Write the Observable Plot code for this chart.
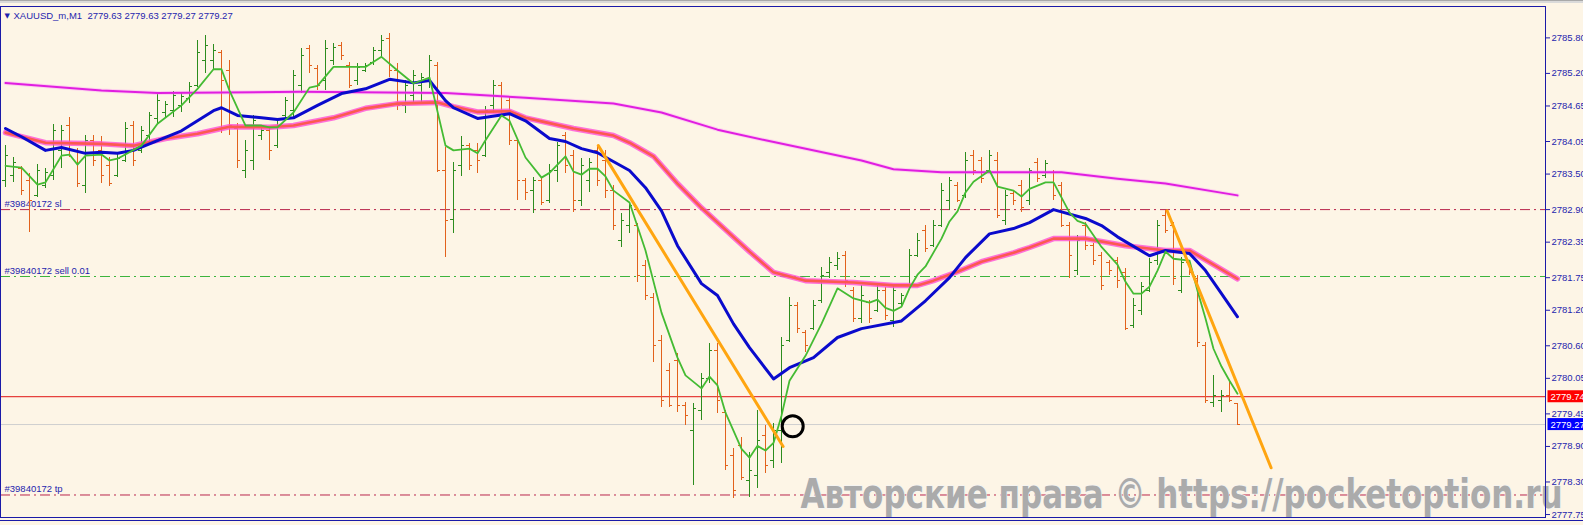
<!DOCTYPE html>
<html><head><meta charset="utf-8">
<script src="https://cdn.jsdelivr.net/npm/d3@7"></script>
<script src="https://cdn.jsdelivr.net/npm/@observablehq/plot@0.6"></script>
<style>
html,body{margin:0;padding:0;}
body{width:1583px;height:525px;overflow:hidden;background:linear-gradient(to bottom,#a9a9a9 0px,#a9a9a9 1px,#dadada 1px,#dadada 3px,#FDF5E6 3px,#FDF5E6 520px,#1a1aa8 520px,#1a1aa8 521px,#FDF5E6 521px);}
#chart svg{display:block}
</style></head><body><div id="chart"></div>
<script>
// ---- chart data (XAUUSD_m, M1) ----
const symbol = "XAUUSD_m,M1";
const open = [
2783.39,2783.47,2783.59,2783.39,2783.14,2783.30,2783.47,2783.90,2784.32,2783.90,
2783.30,2784.07,2783.90,2783.64,2783.47,2783.73,2784.32,2783.90,2784.15,2784.44,
2784.54,2784.57,2784.66,2784.77,2784.99,2785.42,2785.42,2785.55,2785.25,2784.27,
2783.56,2783.73,2784.15,2784.23,2783.98,2784.49,2784.57,2784.99,2785.62,2785.28,
2785.08,2785.42,2785.67,2785.33,2785.08,2785.25,2785.38,2785.59,2785.79,2785.25,
2784.66,2784.83,2784.99,2785.08,2785.33,2783.56,2782.74,2783.64,2783.98,2783.90,
2783.81,2784.66,2784.99,2784.74,2784.07,2783.39,2783.22,2783.39,2783.05,2783.56,
2784.15,2783.81,2783.05,2783.39,2783.90,2783.73,2783.22,2782.38,2782.63,2782.63,
2781.95,2781.41,2780.69,2780.18,2780.35,2779.59,2779.17,2779.50,2780.05,2780.52,
2779.47,2778.74,2778.91,2778.32,2778.41,2779.08,2778.66,2779.17,2780.69,2781.28,
2780.82,2780.89,2781.36,2781.83,2781.95,2782.12,2781.53,2781.06,2781.33,2781.19,
2781.53,2781.02,2781.31,2781.62,2782.12,2782.55,2782.29,2782.63,2783.05,2783.30,
2783.14,2783.81,2783.73,2783.56,2783.73,2782.71,2783.17,2783.30,2783.05,2783.69,
2783.47,2783.52,2783.30,2782.63,2781.87,2782.63,2782.29,2782.12,2782.00,2782.04,
2781.83,2780.94,2781.19,2781.53,2782.04,2782.80,2782.63,2781.53,2782.00,2781.73,
2780.60,2779.64,2779.67,2779.76,2779.63];
const high = [
2783.98,2783.78,2783.63,2783.51,2783.66,2783.59,2784.34,2784.32,2784.45,2783.93,
2784.15,2784.15,2784.13,2783.78,2783.83,2784.37,2784.39,2784.30,2784.54,2784.84,
2784.72,2784.89,2784.88,2785.05,2785.75,2785.84,2785.69,2785.59,2785.42,2784.35,
2784.07,2784.49,2784.29,2784.29,2784.40,2784.79,2785.25,2785.62,2785.67,2785.33,
2785.75,2785.70,2785.72,2785.38,2785.37,2785.37,2785.64,2785.84,2785.87,2785.37,
2785.08,2785.25,2785.20,2785.50,2785.38,2783.95,2783.69,2784.13,2784.01,2784.01,
2784.64,2785.08,2785.05,2784.79,2784.10,2783.42,2783.44,2783.44,2783.66,2784.03,
2784.20,2783.90,2783.76,2783.76,2783.98,2783.90,2783.30,2782.83,2783.02,2782.66,
2782.04,2781.48,2780.77,2780.30,2780.47,2779.64,2779.62,2780.13,2780.64,2780.64,
2779.50,2778.86,2779.05,2778.80,2779.50,2779.25,2779.29,2780.74,2781.41,2781.33,
2780.86,2781.36,2781.92,2782.09,2782.17,2782.19,2781.58,2781.62,2781.36,2781.62,
2781.58,2781.62,2781.48,2782.22,2782.49,2782.63,2782.71,2783.34,2783.44,2783.36,
2783.86,2783.90,2783.78,2783.90,2783.86,2783.22,2783.22,2783.39,2783.59,2783.76,
2783.73,2783.56,2783.36,2782.68,2782.46,2782.68,2782.33,2782.17,2782.04,2782.09,
2781.90,2781.40,2781.67,2782.07,2782.71,2782.88,2782.68,2782.09,2782.04,2781.78,
2780.65,2780.10,2779.84,2780.01,2779.63];
const low = [
2783.27,2783.36,2783.14,2782.51,2783.10,2783.25,2783.39,2783.59,2783.78,2783.27,
2783.17,2783.63,2783.34,2783.29,2783.44,2783.69,2783.63,2783.85,2783.98,2784.35,
2784.44,2784.45,2784.54,2784.69,2784.96,2785.20,2785.26,2784.18,2784.15,2783.59,
2783.42,2783.56,2784.07,2783.73,2783.93,2784.44,2784.45,2784.86,2785.20,2784.91,
2784.91,2785.33,2785.42,2784.94,2784.99,2785.21,2785.33,2785.45,2785.13,2784.57,
2784.52,2784.69,2784.71,2784.94,2783.52,2782.09,2782.49,2783.46,2783.56,2783.51,
2783.78,2784.52,2784.45,2783.98,2783.05,2783.05,2782.83,2782.97,2783.00,2783.36,
2783.51,2782.85,2782.95,2783.19,2783.29,2783.09,2782.55,2782.26,2782.49,2781.67,
2781.36,2780.32,2779.56,2779.56,2779.47,2779.25,2778.24,2779.34,2779.96,2779.45,
2778.49,2778.02,2778.32,2778.03,2778.19,2778.44,2778.52,2778.61,2780.65,2780.80,
2780.48,2780.86,2781.31,2781.73,2781.87,2781.58,2780.99,2780.97,2780.97,2781.16,
2781.02,2780.91,2781.24,2781.58,2782.09,2782.17,2782.26,2782.60,2782.88,2783.02,
2783.09,2783.47,2783.34,2783.51,2782.75,2782.63,2782.97,2782.85,2782.97,2783.36,
2783.42,2783.05,2782.60,2781.73,2781.78,2782.21,2781.95,2781.53,2781.78,2781.57,
2780.86,2780.89,2781.11,2781.50,2781.95,2782.49,2781.62,2781.48,2781.78,2780.57,
2779.62,2779.56,2779.47,2779.64,2779.27];
const close = [
2783.81,2783.69,2783.22,2783.05,2783.56,2783.52,2784.23,2784.23,2783.90,2783.34,
2784.07,2783.73,2783.47,2783.34,2783.76,2784.27,2783.73,2784.23,2784.49,2784.74,
2784.67,2784.83,2784.81,2784.98,2785.55,2785.67,2785.59,2785.08,2784.32,2783.73,
2783.90,2784.40,2784.23,2783.90,2784.32,2784.74,2785.16,2785.50,2785.33,2784.99,
2785.62,2785.64,2785.50,2784.99,2785.30,2785.33,2785.59,2785.75,2785.25,2784.66,
2784.99,2785.16,2785.13,2785.42,2783.56,2782.71,2783.56,2783.98,2783.64,2783.73,
2784.57,2784.99,2784.57,2784.07,2783.39,2783.19,2783.39,2783.02,2783.56,2783.98,
2783.64,2783.05,2783.64,2783.69,2783.39,2783.22,2782.63,2782.71,2782.97,2781.78,
2781.45,2780.60,2779.67,2779.59,2779.59,2779.42,2779.54,2780.05,2780.52,2779.67,
2778.58,2778.15,2778.37,2778.49,2779.00,2778.58,2779.17,2780.60,2781.28,2780.89,
2780.60,2781.28,2781.78,2782.00,2782.07,2781.70,2781.06,2781.45,2781.06,2781.53,
2781.11,2781.53,2781.45,2782.12,2782.38,2782.24,2782.63,2783.22,2783.39,2783.05,
2783.73,2783.56,2783.42,2783.81,2782.80,2783.14,2783.05,2782.93,2783.56,2783.42,
2783.68,2783.14,2782.63,2782.12,2782.38,2782.29,2782.04,2781.62,2781.87,2781.70,
2780.89,2781.28,2781.60,2782.00,2782.63,2782.55,2781.73,2782.00,2781.83,2780.65,
2779.67,2779.76,2779.76,2779.67,2779.27];

// moving averages at bar positions
const fastIdx = [0,2,4,5,7,8,9,10,12,13,14,17,19,22,24,26,27,28,30,32,33,34,36,38,39,41,43,45,47,49,51,53,55,56,58,59,60,62,63,65,67,68,70,71,72,73,74,75,76,78,80,82,84,85,87,88,89,90,92,93,94,95,96,97,98,100,102,104,106,108,109,110,111,112,113,114,115,117,118,119,120,121,123,124,126,127,128,130,131,133,134,135,137,139,140,141,142,143,144,145,146,148,149,150,151,152,153,154];
const fastVal = [2783.64,2783.61,2783.32,2783.36,2783.81,2783.83,2783.66,2783.81,2783.83,2783.73,2783.76,2783.98,2784.35,2784.66,2784.94,2785.27,2785.27,2784.91,2784.32,2784.32,2784.29,2784.29,2784.54,2784.96,2784.99,2785.31,2785.31,2785.31,2785.48,2785.25,2785.03,2785.13,2783.98,2783.90,2783.93,2783.85,2784.07,2784.49,2784.40,2783.78,2783.44,2783.52,2783.80,2783.54,2783.49,2783.59,2783.59,2783.46,2783.22,2783.02,2782.21,2781.16,2780.40,2780.10,2779.88,2780.08,2779.93,2779.47,2778.86,2778.71,2778.91,2778.83,2778.96,2779.42,2780.01,2780.43,2780.97,2781.57,2781.40,2781.33,2781.38,2781.24,2781.19,2781.26,2781.57,2781.80,2781.94,2782.41,2782.70,2782.87,2783.19,2783.37,2783.56,2783.29,2783.22,2783.12,2783.25,2783.36,2783.36,2782.85,2782.71,2782.66,2782.27,2781.97,2781.68,2781.48,2781.48,2781.60,2781.87,2782.19,2782.07,2782.04,2781.53,2781.06,2780.55,2780.25,2780.01,2779.79];
const blueIdx = [0,2,5,7,10,12,14,16,18,22,26,27,29,32,34,36,39,42,45,48,51,53,55,56,59,63,65,68,70,72,74,78,80,82,84,87,89,91,93,96,98,101,104,107,112,115,118,120,123,126,128,131,135,137,139,143,145,148,150,152,154];
const blueVal = [2784.27,2784.13,2783.90,2783.95,2783.85,2783.87,2783.85,2783.90,2784.01,2784.23,2784.57,2784.62,2784.49,2784.45,2784.42,2784.45,2784.66,2784.86,2784.94,2785.10,2785.04,2785.08,2784.74,2784.62,2784.44,2784.52,2784.40,2784.10,2784.05,2783.93,2783.86,2783.56,2783.27,2782.88,2782.29,2781.65,2781.45,2780.97,2780.57,2780.04,2780.23,2780.40,2780.74,2780.89,2781.02,2781.36,2781.75,2782.09,2782.49,2782.58,2782.68,2782.90,2782.75,2782.63,2782.44,2782.12,2782.21,2782.16,2781.87,2781.48,2781.09];
const redIdx = [0,5,12,16,20,24,28,33,36,41,45,49,54,56,59,63,65,67,71,76,78,81,84,87,90,93,96,100,106,111,114,116,119,122,126,128,131,135,140,145,148,151,154];
const redVal = [2784.20,2784.03,2784.01,2783.98,2784.10,2784.18,2784.30,2784.29,2784.32,2784.45,2784.61,2784.69,2784.71,2784.64,2784.55,2784.56,2784.45,2784.39,2784.27,2784.15,2784.03,2783.80,2783.34,2782.93,2782.56,2782.19,2781.84,2781.70,2781.67,2781.62,2781.62,2781.70,2781.85,2782.02,2782.17,2782.26,2782.41,2782.41,2782.29,2782.21,2782.21,2781.97,2781.73];
const magIdx = [0,12,19,37,55,65,76,82,89,95,107,111,117,126,132,139,145,154];
const magVal = [2785.04,2784.91,2784.87,2784.89,2784.87,2784.79,2784.69,2784.54,2784.25,2784.07,2783.73,2783.58,2783.53,2783.53,2783.53,2783.42,2783.34,2783.14];

// drawn objects
const trend1X = [74.1, 97.2], trend1Y = [2783.98, 2778.90];
const trend2X = [145.2, 158.2], trend2Y = [2782.88, 2778.54];
const circleX = [98.4], circleY = [2779.24];

// order levels
const levelPrice = [2782.90, 2781.77, 2778.08];
const levelLabel = ["#39840172 sl", "#39840172 sell 0.01", "#39840172 tp"];
const levelColor = ["#b9264c", "#3cb43c", "#b9264c"];
const bidPrice = 2779.74, lastPrice = 2779.27;

const yTicks = [2785.80, 2785.20, 2784.65, 2784.05, 2783.50, 2782.90, 2782.35, 2781.75, 2781.20, 2780.60, 2780.05, 2779.45, 2778.90, 2778.30, 2777.75];
const watermark = "Авторские права © https://pocketoption.ru";

// ---- build ----
const N = close.length;
const UP = "#2c8c1e", DN = "#e2621c", TXT = "#1f1fae";
const bars = d3.range(N).map(i => ({i, o: open[i], h: high[i], l: low[i], c: close[i], col: close[i] >= open[i] ? UP : DN}));
const pts = (xs, ys) => xs.map((x, k) => ({x, y: ys[k]}));
const fast = pts(fastIdx, fastVal), blue = pts(blueIdx, blueVal), red = pts(redIdx, redVal), mag = pts(magIdx, magVal);
const levels = levelPrice.map((p, k) => ({p, label: levelLabel[k], col: levelColor[k]}));
const last = N - 1;
const title = `${symbol}\u00a0\u00a0${[open[last], high[last], low[last], close[last]].map(v => v.toFixed(2)).join(" ")}`;
const boxes = [{p: bidPrice, bg: "#ff0000"}, {p: lastPrice, bg: "#0000ff"}];
const boxText = boxes.map(b => b.p.toFixed(2));

const plot = Plot.plot({
  width: 1583, height: 525,
  marginLeft: 0, marginRight: 38, marginTop: 6, marginBottom: 8,
  style: {background: "transparent", fontFamily: "'Liberation Sans', Arial, sans-serif", overflow: "visible"},
  x: {type: "linear", domain: [-0.625, 192.5], axis: null},
  y: {domain: [2777.70, 2786.33], axis: null},
  color: {type: "identity"},
  marks: [
    Plot.ruleY([lastPrice], {stroke: "#cfcfcf", strokeWidth: 1}),
    Plot.ruleY([bidPrice], {stroke: "#e01414", strokeWidth: 1}),
    Plot.ruleY(levels, {y: "p", stroke: "col", strokeWidth: 1, strokeDasharray: "10,4,2,4"}),
    Plot.text(levels, {y: "p", text: "label", frameAnchor: "left", lineAnchor: "middle", dx: 4, dy: -6, textAnchor: "start", fill: TXT, fontSize: 9.5}),
    // OHLC bars
    Plot.ruleX(bars, {x: "i", y1: "l", y2: "h", stroke: "col", strokeWidth: 1, shapeRendering: "crispEdges"}),
    Plot.ruleY(bars, {y: "o", x1: d => d.i - 0.4, x2: "i", stroke: "col", strokeWidth: 1, shapeRendering: "crispEdges"}),
    Plot.ruleY(bars, {y: "c", x1: "i", x2: d => d.i + 0.4, stroke: "col", strokeWidth: 1, shapeRendering: "crispEdges"}),
    // moving averages
    Plot.line(mag, {x: "x", y: "y", stroke: "#ff7dff", strokeWidth: 4, strokeOpacity: 0.3}),
    Plot.line(mag, {x: "x", y: "y", stroke: "#e01ee0", strokeWidth: 2}),
    Plot.line(red, {x: "x", y: "y", stroke: "#ff4fd6", strokeWidth: 5.5, strokeOpacity: 0.8}),
    Plot.line(red, {x: "x", y: "y", stroke: "#fb5a50", strokeWidth: 2.6}),
    Plot.line(blue, {x: "x", y: "y", stroke: "#0a0acc", strokeWidth: 3}),
    Plot.line(fast, {x: "x", y: "y", stroke: "#44bb33", strokeWidth: 1.8}),
    // drawn trend lines & marker
    Plot.line(pts(trend1X, trend1Y), {x: "x", y: "y", stroke: "#ffa510", strokeWidth: 3}),
    Plot.line(pts(trend2X, trend2Y), {x: "x", y: "y", stroke: "#ffa510", strokeWidth: 3}),
    Plot.dot(pts(circleX, circleY), {x: "x", y: "y", r: 10.5, stroke: "black", strokeWidth: 3, fill: "none"}),
    // watermark
    Plot.text([watermark], {frameAnchor: "bottom-right", lineAnchor: "middle", dx: 17, dy: -22, textAnchor: "end", fontSize: 40, fontWeight: "bold",
      fontFamily: "'DejaVu Sans', sans-serif", fill: "#ababab", stroke: "#f4f4f4", strokeWidth: 1.5}),
    // frame and axis
    Plot.frame({stroke: "#1a1aa8"}),
    Plot.axisY(yTicks, {anchor: "right", tickSize: 4, tickPadding: 2, fontSize: 9.5, color: TXT, tickFormat: d => d.toFixed(2)}),
    Plot.text(boxes, {y: "p", text: d => d.p.toFixed(2), frameAnchor: "right", lineAnchor: "middle", dx: 5, textAnchor: "start", fill: "white", fontSize: 9.5}),
    // header
    Plot.text(["\u25BC"], {frameAnchor: "top-left", lineAnchor: "middle", dx: 4, dy: 9, fontSize: 7, fill: TXT, fontFamily: "'DejaVu Sans', sans-serif"}),
    Plot.text([title], {frameAnchor: "top-left", lineAnchor: "middle", dx: 13, dy: 9, textAnchor: "start", fill: TXT, fontSize: 9.5})
  ]
});
document.getElementById("chart").append(plot);

// background boxes behind the price labels on the axis
const svg = d3.select(plot);
svg.selectAll("text")
  .filter(function() { return boxText.includes(this.textContent) && this.getAttribute("fill") === "white" || (boxText.includes(this.textContent) && this.parentNode.getAttribute("fill") === "white"); })
  .each(function() {
    const k = boxText.indexOf(this.textContent);
    const b = this.getBBox();
    d3.select(this.parentNode).insert("rect", () => this)
      .attr("transform", this.getAttribute("transform"))
      .attr("x", b.x - 3).attr("y", b.y - 0.5)
      .attr("width", b.width + 8).attr("height", b.height + 1)
      .attr("fill", boxes[k].bg).attr("stroke", "none");
  });
// fit watermark to its span
svg.selectAll("text")
  .filter(function() { return this.textContent === watermark; })
  .attr("textLength", 762).attr("lengthAdjust", "spacingAndGlyphs");
</script>
</body></html>
